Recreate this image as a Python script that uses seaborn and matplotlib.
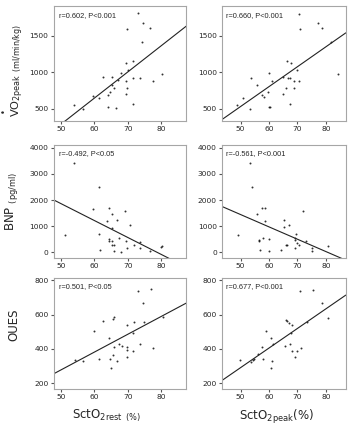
import numpy as np
import matplotlib.pyplot as plt
import seaborn as sns

# === DATA ===
# VO2peak vs SctO2 rest / peak
sct_rest_vo2 = [73.0, 74.7, 69.9, 76.7, 74.4, 69.4, 71.7, 70.2, 68.0, 62.5, 65.4, 67.1, 71.6, 73.7, 77.5,
                80.3, 69.5, 65.3, 65.9, 69.8, 64.8, 64.2, 69.4, 59.5, 61.3, 53.9, 56.5, 64.2, 66.5, 71.5]
vo2_rest = [1805, 1668, 1591, 1609, 1418, 1132, 1155, 1032, 995, 936, 936, 895, 927, 927, 886,
            977, 886, 823, 782, 786, 736, 691, 705, 677, 650, 550, 500, 523, 518, 564]
sct_peak_vo2 = [70.5, 77.1, 71.0, 78.5, 81.8, 84.1, 66.2, 67.6, 69.9, 60.0, 65.0, 66.8, 67.4, 53.6, 55.6,
                60.9, 68.9, 70.6, 65.9, 68.9, 59.5, 57.6, 58.3, 65.0, 50.9, 48.7, 53.2, 60.0, 60.2, 67.4]
vo2_peak = [1795, 1668, 1586, 1605, 1414, 977, 1155, 1132, 1032, 995, 941, 927, 927, 927, 827,
            886, 882, 882, 782, 786, 736, 686, 668, 709, 655, 555, 495, 532, 523, 564]

# BNP vs SctO2 rest / peak
sct_rest_bnp = [53.9, 61.5, 59.5, 64.4, 65.4, 69.2, 63.7, 66.9, 70.7, 65.3, 61.5, 51.3, 64.3, 67.3, 73.7,
                64.3, 65.4, 69.5, 65.2, 65.9, 71.8, 69.9, 61.7, 65.9, 68.1, 73.7, 76.7, 79.9, 80.4]
bnp_rest = [3416, 2502, 1676, 1702, 1460, 1587, 1194, 1232, 1041, 914, 698, 660, 495, 533, 406,
            432, 444, 444, 279, 267, 279, 152, 89, 51, 25, 152, 38, 190, 254]
sct_peak_bnp = [53.2, 54.1, 57.6, 58.6, 55.6, 58.6, 65.4, 67.0, 72.0, 65.4, 48.9, 57.9, 56.4, 60.1, 56.4,
                69.3, 69.1, 69.1, 69.8, 65.9, 66.2, 70.4, 72.9, 75.0, 75.2, 69.1, 56.8, 60.1, 64.2, 80.7]
bnp_peak = [3416, 2502, 1714, 1689, 1460, 1206, 1232, 1041, 1587, 952, 660, 559, 470, 495, 432,
            698, 533, 470, 343, 267, 279, 267, 432, 152, 63, 152, 89, 51, 89, 241]

# OUES vs SctO2 rest / peak
sct_rest_oues = [73.2, 76.9, 74.5, 59.9, 62.7, 65.7, 66.0, 69.7, 72.0, 74.9, 80.5, 71.7, 64.4, 67.4, 68.2,
                 69.7, 73.7, 65.9, 69.7, 71.7, 77.5, 65.7, 69.9, 61.4, 64.7, 66.7, 65.0, 54.2, 56.7]
oues_rest = [738, 746, 669, 506, 564, 574, 584, 539, 558, 558, 584, 495, 462, 427, 417,
             414, 429, 414, 394, 388, 404, 365, 352, 340, 342, 332, 292, 336, 327]
sct_peak_oues = [70.9, 75.3, 78.5, 80.8, 73.4, 65.8, 66.2, 67.0, 67.9, 67.7, 58.9, 60.7, 61.5, 57.6,
                 65.5, 67.3, 67.9, 69.7, 71.1, 69.1, 56.2, 57.9, 60.9, 60.7, 54.8, 54.3, 53.6, 49.8]
oues_peak = [737, 745, 665, 581, 556, 571, 562, 552, 537, 491, 505, 461, 429, 413,
             415, 429, 387, 387, 404, 352, 368, 343, 330, 291, 343, 333, 324, 333]

stats_text = [["r=0.602, P<0.001", "r=0.660, P<0.001"],
              ["r=-0.492, P<0.05", "r=-0.561, P<0.001"],
              ["r=0.501, P<0.05", "r=0.677, P<0.001"]]

x_ticks = [50, 60, 70, 80]
y_ticks = [[500, 1000, 1500], [0, 1000, 2000, 3000, 4000], [200, 400, 600, 800]]

# === STYLE ===
sns.set_theme(style="ticks")
plt.rcParams["font.family"] = ["DejaVu Sans"]
GREY = "#a6a6a6"

fig = plt.figure(figsize=(3.5, 4.25), dpi=100)

# axes positions [left, bottom, width, height]
col_pos = [(0.153, 0.379), (0.634, 0.354)]
row_pos = [(0.7153, 0.2706), (0.393, 0.266), (0.0847, 0.261)]
x_limits = [(47.8, 87.5), (43.4, 87.0)]
y_limits = [(335, 1905), (-210, 4100), (167, 812)]

panels = [
    [(sct_rest_vo2, vo2_rest), (sct_peak_vo2, vo2_peak)],
    [(sct_rest_bnp, bnp_rest), (sct_peak_bnp, bnp_peak)],
    [(sct_rest_oues, oues_rest), (sct_peak_oues, oues_peak)],
]

for r in range(3):
    for c in range(2):
        ax = fig.add_axes([col_pos[c][0], row_pos[r][0], col_pos[c][1], row_pos[r][1]])
        ax.set_xlim(x_limits[c])
        ax.set_ylim(y_limits[r])
        x, y = panels[r][c]
        sns.regplot(x=np.array(x), y=np.array(y), ax=ax, ci=None, truncate=False,
                    scatter_kws={"s": 2, "color": "black", "linewidths": 0},
                    line_kws={"color": "#222222", "lw": 0.8})
        ax.set_xlim(x_limits[c])
        ax.set_ylim(y_limits[r])
        ax.set_xticks(x_ticks)
        ax.set_yticks(y_ticks[r])
        for sp in ax.spines.values():
            sp.set_color(GREY)
            sp.set_linewidth(0.8)
        ax.tick_params(labelsize=5.4, length=2.5, width=0.8, color="#555555", pad=1.2)
        ax.text(0.035 if c else 0.04, 0.92, stats_text[r][c], transform=ax.transAxes,
                fontsize=5.3, family="Liberation Sans", va="center", ha="left")
        ax.set_xlabel("")
        ax.set_ylabel("")

        if c == 0:
            if r == 0:
                # VO2peak label drawn bottom-up, with the "dot" over the V
                ax.text(-0.205, 0.035, r"VO$_{\mathrm{2peak}}$ $_{\mathrm{(ml/min/kg)}}$",
                        transform=ax.transAxes, rotation=90, ha="right", va="bottom", fontsize=8.2)
                ax.text(-0.378, 0.095, "\u2022", transform=ax.transAxes, rotation=90,
                        ha="center", va="center", fontsize=6)
            elif r == 1:
                ax.set_ylabel(r"BNP $_{\mathrm{(pg/ml)}}$", fontsize=8.5)
                ax.yaxis.set_label_coords(-0.25, 0.5)
            else:
                ax.set_ylabel("OUES", fontsize=8.5)
                ax.yaxis.set_label_coords(-0.25, 0.58)
        if r == 2:
            if c == 0:
                ax.set_xlabel(r"SctO$_{\mathrm{2rest}}$ $_{\mathrm{(\%)}}$", fontsize=8.5, labelpad=2)
                ax.xaxis.set_label_coords(0.4, -0.17)
            else:
                ax.set_xlabel(r"SctO$_{\mathrm{2peak}}$(%)", fontsize=8.5, labelpad=2)
                ax.xaxis.set_label_coords(0.44, -0.17)

plt.savefig("out.png", dpi=100)
